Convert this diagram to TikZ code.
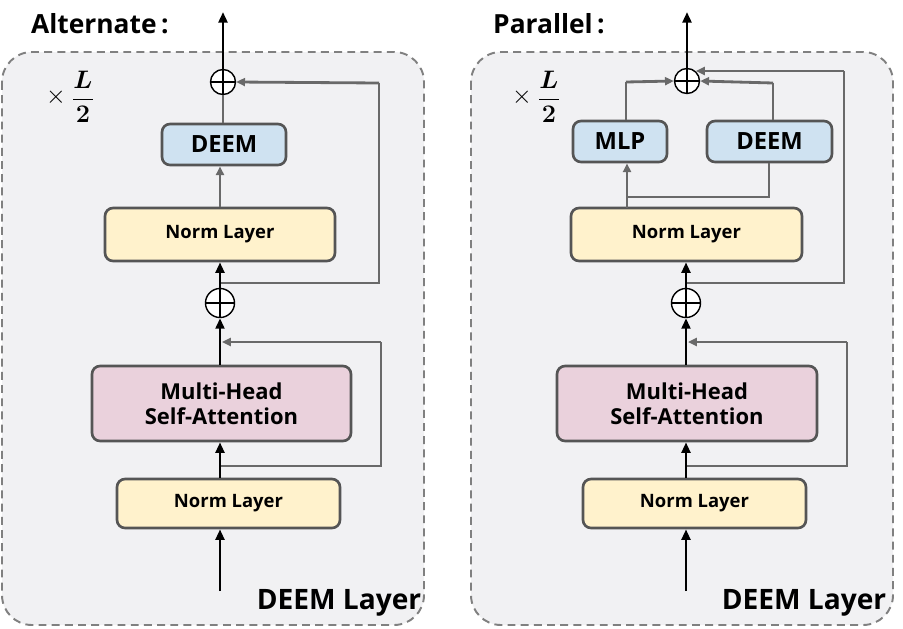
\documentclass[tikz,border=0pt]{standalone}
\usepackage{amsmath}
\usepackage[no-math]{fontspec}
\setmainfont{Open Sans}
\usetikzlibrary{arrows.meta}
\definecolor{panelbg}{RGB}{241,241,243}
\definecolor{dashc}{RGB}{128,128,128}
\definecolor{boxc}{RGB}{85,85,85}
\definecolor{linec}{RGB}{105,105,105}
\definecolor{deemc}{RGB}{207,226,241}
\definecolor{normc}{RGB}{255,242,204}
\definecolor{mhsac}{RGB}{234,209,220}
\tikzset{
  panel/.style={draw=dashc, fill=panelbg, line width=1.1pt, dash pattern=on 4.5pt off 3pt, rounded corners=0.6cm},
  blockbox/.style={draw=boxc, line width=1.5pt, rounded corners=0.16cm, align=center, font=\bfseries, inner sep=0pt},
  deembox/.style={blockbox, fill=deemc, font=\fontsize{13.5}{15}\selectfont\bfseries},
  normbox/.style={blockbox, fill=normc, font=\fontsize{10.5}{12}\selectfont\bfseries},
  mhsabox/.style={blockbox, fill=mhsac, font=\fontsize{12.5}{14}\selectfont\bfseries},
  plusnode/.style={circle, draw=black, line width=0.8pt, inner sep=0pt, fill=white,
    path picture={\draw[line width=0.8pt] (path picture bounding box.west) -- (path picture bounding box.east)
      (path picture bounding box.north) -- (path picture bounding box.south);}},
  blk/.style={draw=black, line width=1.5pt, -{Triangle[length=6pt,width=5pt]}},
  gry/.style={draw=linec, line width=1.6pt},
  gryarr/.style={gry, -{Triangle[length=5pt,width=4.5pt]}},
  titletext/.style={font=\fontsize{15}{18}\selectfont\bfseries, anchor=west},
  layertext/.style={font=\fontsize{16}{19}\selectfont\bfseries},
}
\begin{document}
\begin{tikzpicture}[x=0.02cm, y=-0.02cm]
\useasboundingbox (0,0) rectangle (903,629);
% panels
\draw[panel] (2,52) rectangle (424,625);
\draw[panel] (471,52) rectangle (893,625);
% titles
\node[titletext] (tA) at (25,24) {Alternate\,:};
\node[titletext] (tP) at (487,24) {Parallel\,:};
\node[layertext] (lA) at (339,603) {DEEM Layer};
\node[layertext] (lP) at (804,603) {DEEM Layer};
% x L/2
\node (xA) at (56,97) {\fontsize{14}{16}\selectfont$\times$};
\node (fA) at (83,97) {\fontsize{14}{16}\selectfont$\displaystyle\frac{\boldsymbol{L}}{\mathbf{2}}$};
\node (xP) at (522,97) {\fontsize{14}{16}\selectfont$\times$};
\node (fP) at (549,97) {\fontsize{14}{16}\selectfont$\displaystyle\frac{\boldsymbol{L}}{\mathbf{2}}$};

% ===== Left (Alternate) =====
\node[plusnode, minimum size=0.5cm] (plusA) at (223,82) {};
\node[deembox, minimum width=2.48cm, minimum height=0.82cm] (deem1) at (224,144.5) {DEEM};
\node[normbox, minimum width=4.6cm, minimum height=1.06cm] (normA) at (220,234.5) {Norm Layer};
\node[plusnode, minimum size=0.58cm] (plusB) at (220,303) {};
\node[mhsabox, minimum width=5.18cm, minimum height=1.5cm] (mhsa1) at (221.5,403.5) {Multi-Head\\Self-Attention};
\node[normbox, minimum width=4.46cm, minimum height=0.98cm] (normB) at (228.5,503.5) {Norm Layer};
\coordinate (inL) at (220,591);
\coordinate (outL) at (223,12);
\coordinate (s1a) at (220,466);
\coordinate (s1b) at (381,466);
\coordinate (s1c) at (381,342);
\coordinate (s1d) at (222,342);
\coordinate (s2a) at (220,283);
\coordinate (s2b) at (379,283);
\coordinate (s2c) at (379,83);

\draw[blk] (inL) -- (inL |- normB.south);
\draw[gry] (s1a) -- (s1b) -- (s1c);
\draw[gryarr] (s1c) -- (s1d);
\draw[blk] (normB.north -| inL) -- (mhsa1.south -| inL);
\draw[blk] (mhsa1.north -| inL) -- (plusB.south);
\draw[gry] (s2a) -- (s2b) -- (s2c);
\draw[gryarr] (s2c) -- (plusA.east);
\draw[blk] (plusB.north) -- (normA.south);
\draw[gryarr] (normA.north) -- (normA.north |- deem1.south);
\draw[gry] (deem1.north -| plusA) -- (plusA.south);
\draw[blk] (plusA.north) -- (outL);

% ===== Right (Parallel) =====
\node[plusnode, minimum size=0.5cm] (plusC) at (687,81) {};
\node[deembox, minimum width=1.88cm, minimum height=0.82cm] (mlp) at (620,141.5) {MLP};
\node[deembox, minimum width=2.5cm, minimum height=0.82cm] (deem2) at (769.5,141.5) {DEEM};
\node[normbox, minimum width=4.62cm, minimum height=1.06cm] (normC) at (686.5,234.5) {Norm Layer};
\node[plusnode, minimum size=0.58cm] (plusD) at (686,303) {};
\node[mhsabox, minimum width=5.2cm, minimum height=1.5cm] (mhsa2) at (687,403.5) {Multi-Head\\Self-Attention};
\node[normbox, minimum width=4.46cm, minimum height=0.98cm] (normD) at (694.5,503.5) {Norm Layer};
\coordinate (inR) at (686,591);
\coordinate (outR) at (687,12);
\coordinate (r1a) at (686,466);
\coordinate (r1b) at (847,466);
\coordinate (r1c) at (847,342);
\coordinate (r1d) at (688,342);
\coordinate (r2a) at (686,283);
\coordinate (r2b) at (844,283);
\coordinate (r2c) at (844,71);
\coordinate (r2d) at (696,71);
\coordinate (mlpin) at (627,208);
\coordinate (brA) at (627,197);
\coordinate (brB) at (769,197);
\coordinate (mlpout) at (626,82);
\coordinate (deemout) at (773,83);

\draw[blk] (inR) -- (inR |- normD.south);
\draw[gry] (r1a) -- (r1b) -- (r1c);
\draw[gryarr] (r1c) -- (r1d);
\draw[blk] (normD.north -| inR) -- (mhsa2.south -| inR);
\draw[blk] (mhsa2.north -| inR) -- (plusD.south);
\draw[gry] (r2a) -- (r2b) -- (r2c);
\draw[gryarr] (r2c) -- (r2d);
\draw[blk] (plusD.north) -- (normC.south -| plusD);
\draw[gryarr] (mlpin) -- (mlpin |- mlp.south);
\draw[gry] (brA) -- (brB) -- (brB |- deem2.south);
\draw[gry] (mlpout |- mlp.north) -- (mlpout);
\draw[gryarr] (mlpout) -- (plusC.west);
\draw[gry] (deemout |- deem2.north) -- (deemout);
\draw[gryarr] (deemout) -- (plusC.east);
\draw[blk] (plusC.north) -- (outR);
\end{tikzpicture}
\end{document}
